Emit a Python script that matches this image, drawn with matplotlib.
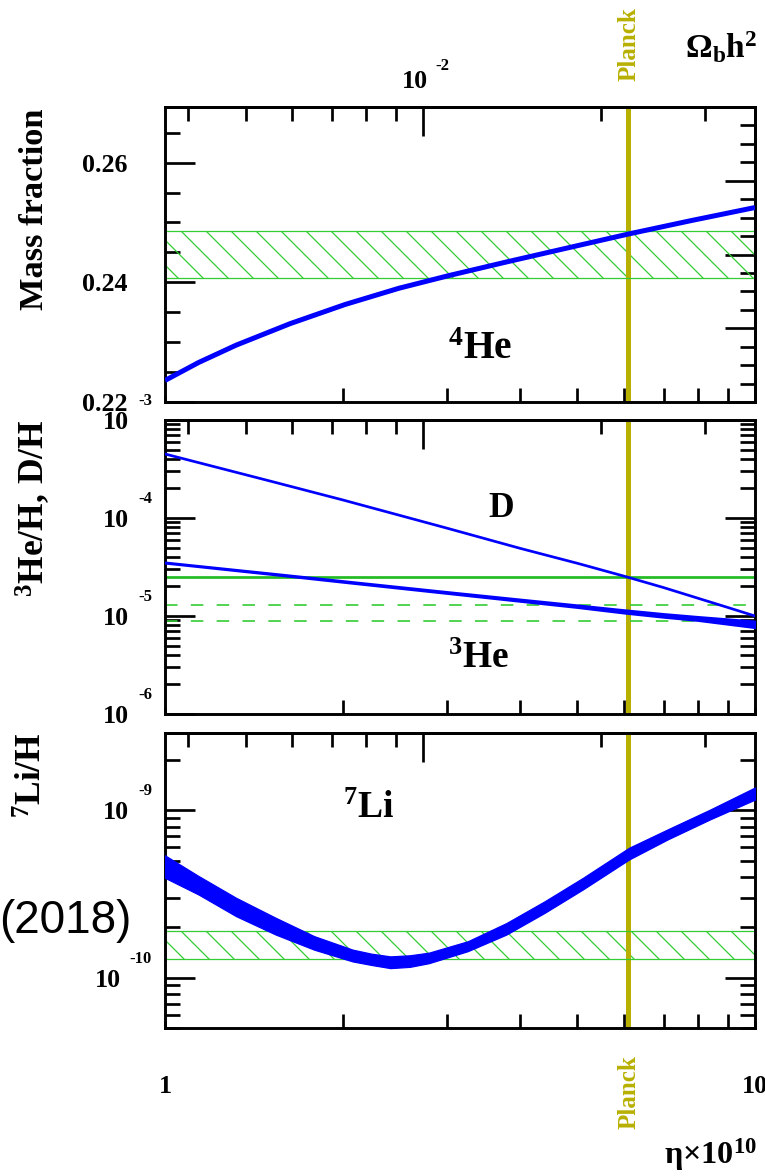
import numpy as np
import matplotlib
matplotlib.use("Agg")
import matplotlib.pyplot as plt
from matplotlib.ticker import (LogLocator, MultipleLocator, NullFormatter,
                               FormatStrFormatter, FuncFormatter)
from matplotlib.transforms import blended_transform_factory

W, H, DPI = 765, 1176, 150

# ---- values ----------------------------------------------------------------
eta_he4 = [1.0, 1.14, 1.32, 1.63, 2.02, 2.49, 3.02, 3.79, 4.74, 6.12, 7.78, 10.0]
yp_he4 = [0.2236, 0.2266, 0.2295, 0.2331, 0.2363, 0.2390, 0.2411, 0.2434,
          0.2456, 0.2481, 0.2503, 0.2525]
yp_obs = [0.2408, 0.2485]

eta_d = [1.0, 1.5, 2.0, 3.0, 4.0, 5.0, 6.0, 7.0, 8.0, 9.0, 10.0]
dh = [45.0, 24.0, 15.3, 7.9, 4.9, 3.45, 2.55, 1.95, 1.52, 1.22, 1.0]  # x1e-5
dh_obs = 2.5  # x1e-5

eta_he3 = [1.0, 1.5, 2.0, 3.0, 4.0, 5.0, 6.0, 7.0, 8.0, 10.0]
he3_hi = [3.56, 2.76, 2.30, 1.78, 1.49, 1.30, 1.16, 1.06, 0.99, 0.89]  # x1e-5
he3_lo = [3.46, 2.67, 2.21, 1.70, 1.41, 1.22, 1.07, 0.97, 0.90, 0.76]
he3_obs = [0.89, 1.28]  # x1e-5

eta_li = [1.0, 1.14, 1.32, 1.54, 1.79, 2.08, 2.24, 2.41, 2.60, 2.80, 3.26,
          3.79, 4.40, 5.11, 6.12, 7.11, 8.39, 10.0]
li_hi = [5.38, 4.05, 3.00, 2.28, 1.77, 1.47, 1.39, 1.34, 1.36, 1.41, 1.65,
         2.12, 2.86, 3.95, 5.98, 7.69, 10.1, 13.7]  # x1e-10
li_lo = [3.95, 3.14, 2.33, 1.81, 1.47, 1.25, 1.19, 1.14, 1.16, 1.22, 1.44,
         1.81, 2.44, 3.37, 5.09, 6.70, 8.83, 11.6]
li_obs = [1.29, 1.89]  # x1e-10

eta_planck = 6.1
eta_per_omega = 273.9

BLUE = "#0000ff"
GREEN = "#22bb22"
GREEN_L = "#33cc33"
OLIVE = "#b8b000"
TICK_FS = 12.5
EXP_FS = 8
HATCH = "\\" * 2

plt.rcParams.update({
    "font.family": "Liberation Serif",
    "font.weight": "bold",
    "mathtext.fontset": "custom",
    "mathtext.rm": "Liberation Serif",
    "mathtext.bf": "Liberation Serif:bold",
    "mathtext.it": "Liberation Serif:italic:bold",
    "hatch.linewidth": 0.6,
    "hatch.color": GREEN_L,
})

fig = plt.figure(figsize=(W / DPI, H / DPI), dpi=DPI)


def panel(top, bottom):
    return fig.add_axes([165 / W, 1 - bottom / H, 590 / W, (bottom - top) / H])


def style_x(ax, labels=False):
    ax.set_xscale("log")
    ax.set_xlim(1, 10)
    for s in ax.spines.values():
        s.set_linewidth(1.4)
    ax.xaxis.set_major_locator(LogLocator(10))
    ax.xaxis.set_minor_locator(LogLocator(10, subs=np.arange(2, 10)))
    ax.xaxis.set_minor_formatter(NullFormatter())
    if labels:
        ax.xaxis.set_major_formatter(FuncFormatter(lambda v, p: f"{v:g}"))
    else:
        ax.xaxis.set_major_formatter(NullFormatter())
    ax.tick_params(axis="x", which="both", direction="in", top=False,
                   width=1.3, labelsize=TICK_FS, pad=22.5)
    ax.tick_params(axis="x", which="minor", length=6.7)
    sec = ax.secondary_xaxis("top", functions=(lambda e: np.asarray(e) / eta_per_omega,
                                               lambda o: np.asarray(o) * eta_per_omega))
    sec.xaxis.set_major_locator(LogLocator(10))
    sec.xaxis.set_minor_locator(LogLocator(10, subs=np.arange(2, 10)))
    sec.xaxis.set_major_formatter(NullFormatter())
    sec.xaxis.set_minor_formatter(NullFormatter())
    sec.tick_params(which="both", direction="in", width=1.3)
    sec.tick_params(which="major", length=14)
    sec.tick_params(which="minor", length=6.7)
    sec.spines["top"].set_linewidth(1.4)


def style_logy(ax, lo, hi, exps):
    ax.set_yscale("log")
    ax.set_ylim(lo, hi)
    ax.yaxis.set_major_locator(LogLocator(10, numticks=20))
    ax.yaxis.set_minor_locator(LogLocator(10, subs=np.arange(2, 10), numticks=20))
    ax.yaxis.set_major_formatter(NullFormatter())
    ax.yaxis.set_minor_formatter(NullFormatter())
    ax.tick_params(axis="y", which="both", direction="in", left=True, right=True, width=1.3)
    ax.tick_params(axis="y", which="major", length=14.4)
    ax.tick_params(axis="y", which="minor", length=7.2)
    # ROOT-style "10" with a detached exponent
    tr = blended_transform_factory(ax.transAxes, ax.transData)
    em = EXP_FS * DPI / 72
    for e in exps:
        digits = str(-e)
        w = em * (0.333 + 0.5 * len(digits))
        kw = dict(xycoords=tr, textcoords="offset pixels", annotation_clip=False)
        ax.annotate("-" + digits, (0, 10.0 ** e), xytext=(-13, 19), ha="right",
                    va="center", fontsize=EXP_FS, **kw)
        ax.annotate("10", (0, 10.0 ** e), xytext=(-13 - w - 9, 0), ha="right",
                    va="center_baseline", fontsize=TICK_FS, **kw)


def planck(ax):
    ax.axvline(eta_planck, color=OLIVE, lw=2.4, zorder=2)


def obs_band(ax, lo, hi):
    ax.axhspan(lo, hi, facecolor="none", edgecolor=GREEN_L, hatch=HATCH, lw=0, zorder=2)
    for v in (lo, hi):
        ax.axhline(v, color=GREEN_L, lw=0.6, zorder=2.2)


# ---- 4He -------------------------------------------------------------------
ax_he = panel(107, 402)
style_x(ax_he)
ax_he.set_ylim(0.22, 0.2693)
ax_he.yaxis.set_major_locator(MultipleLocator(0.02))
ax_he.yaxis.set_minor_locator(MultipleLocator(0.005))
ax_he.yaxis.set_major_formatter(FormatStrFormatter("%.2f"))
ax_he.tick_params(axis="y", which="both", direction="in", left=True, right=False,
                  width=1.3, labelsize=TICK_FS, pad=17.8)
ax_he.tick_params(axis="y", which="major", length=14.4)
ax_he.tick_params(axis="y", which="minor", length=7.2)
k = 4 / (0.2693 - 0.22)
sec_r = ax_he.secondary_yaxis("right", functions=(lambda y: (np.asarray(y) - 0.22) * k,
                                                  lambda r: np.asarray(r) / k + 0.22))
sec_r.yaxis.set_major_locator(MultipleLocator(1))
sec_r.yaxis.set_minor_locator(MultipleLocator(0.25))
sec_r.yaxis.set_major_formatter(NullFormatter())
sec_r.yaxis.set_minor_formatter(NullFormatter())
sec_r.tick_params(which="both", direction="in", width=1.3)
sec_r.tick_params(which="major", length=14.4)
sec_r.tick_params(which="minor", length=7.2)
sec_r.spines["right"].set_linewidth(1.4)

obs_band(ax_he, *yp_obs)
planck(ax_he)
ax_he.plot(eta_he4, yp_he4, color=BLUE, lw=2.4, zorder=3, solid_capstyle="butt")

top_tr = blended_transform_factory(ax_he.transData, ax_he.transAxes)
kw = dict(xycoords=top_tr, textcoords="offset pixels", annotation_clip=False)
ax_he.annotate("10", (1e-2 * eta_per_omega, 1), xytext=(5, 19), ha="right",
               va="baseline", fontsize=TICK_FS, **kw)
ax_he.annotate("-2", (1e-2 * eta_per_omega, 1), xytext=(12, 41), ha="left",
               va="center", fontsize=EXP_FS, **kw)

# ---- D and 3He -------------------------------------------------------------
ax_dh = panel(420, 714)
style_x(ax_dh)
style_logy(ax_dh, 1e-6, 1e-3, [-3, -4, -5, -6])
planck(ax_dh)
ax_dh.axhline(dh_obs * 1e-5, color=GREEN, lw=1.3, zorder=2.2)
for v in he3_obs:
    ax_dh.axhline(v * 1e-5, color=GREEN_L, lw=0.8, ls=(0, (7.5, 8.0)), zorder=2.2)
ax_dh.plot(eta_d, np.array(dh) * 1e-5, color=BLUE, lw=1.3, zorder=3)
ax_dh.fill_between(eta_he3, np.array(he3_lo) * 1e-5, np.array(he3_hi) * 1e-5,
                   color=BLUE, lw=0.9, zorder=3)

# ---- 7Li -------------------------------------------------------------------
ax_li = panel(733, 1028)
style_x(ax_li, labels=True)
style_logy(ax_li, 5e-11, 2.9e-9, [-9, -10])
obs_band(ax_li, li_obs[0] * 1e-10, li_obs[1] * 1e-10)
planck(ax_li)
ax_li.fill_between(eta_li, np.array(li_lo) * 1e-10, np.array(li_hi) * 1e-10,
                   color=BLUE, lw=0.6, zorder=3)


# ---- free texts ------------------------------------------------------------
def ftext(x, y, s, **kw):
    fig.text(x / W, 1 - y / H, s, **kw)


ftext(35, 209, "Mass fraction", rotation=90, ha="center", va="center", fontsize=16.5)
ftext(33, 508, r"$\mathbf{{}^{3}He/H,\,D/H}$", rotation=90, ha="center", va="center", fontsize=17)
ftext(33, 775, r"$\mathbf{{}^{7}Li/H}$", rotation=90, ha="center", va="center", fontsize=17)

ftext(448, 359, r"$\mathbf{{}^{4}He}$", ha="left", va="baseline", fontsize=19)
ftext(488, 517, "D", ha="left", va="baseline", fontsize=17)
ftext(448, 668, r"$\mathbf{{}^{3}He}$", ha="left", va="baseline", fontsize=18)
ftext(343, 818, r"$\mathbf{{}^{7}Li}$", ha="left", va="baseline", fontsize=18)

ftext(629, 44, "Planck", rotation=90, ha="center", va="center", color=OLIVE, fontsize=12)
ftext(629, 1092, "Planck", rotation=90, ha="center", va="center", color=OLIVE, fontsize=12)
ftext(757, 47, r"$\mathbf{\Omega_b h^2}$", ha="right", va="center", fontsize=16)
ftext(757, 1155, r"$\mathrm{\eta}{\times}\mathbf{10^{10}}$", ha="right", va="center", fontsize=15.5)
ftext(132, 921, "(2018)", family="Liberation Sans", weight="normal", fontsize=22,
      ha="right", va="center")

fig.savefig("out.png", dpi=DPI)
